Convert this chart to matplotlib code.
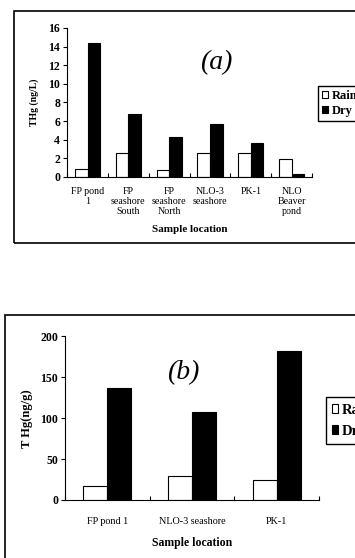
import numpy as np
import matplotlib.pyplot as plt
from matplotlib.patches import Rectangle

plt.rcParams['font.family'] = ['Liberation Serif', 'DejaVu Serif']

# panel (a) - water
sites_a = ["FP pond\n1", "FP\nseashore\nSouth", "FP\nseashore\nNorth",
           "NLO-3\nseashore", "PK-1", "NLO\nBeaver\npond"]
rain_a = [0.8, 2.6, 0.7, 2.6, 2.6, 1.9]
dry_a = [14.4, 6.7, 4.3, 5.7, 3.6, 0.3]

# panel (b) - sediment
sites_b = ["FP pond 1", "NLO-3 seashore", "PK-1"]
rain_b = [17, 29, 25]
dry_b = [137, 108, 182]


def draw_panel(ax, sites, rain, dry, ylim, yticks, ylabel, tag, tagpos,
               bw, tick_fs, xt_fs, lab_fs, yl_fs, xpad):
    x = np.arange(len(sites)) + 0.5
    ax.bar(x - bw / 2, rain, bw, color="white", edgecolor="black", linewidth=0.8, label="Rain")
    ax.bar(x + bw / 2, dry, bw, color="black", edgecolor="black", linewidth=0.8, label="Dry")
    ax.set_xlim(0, len(sites))
    ax.set_ylim(*ylim)
    ax.set_yticks(yticks)
    ax.set_yticklabels([str(t) for t in yticks], fontweight="bold", fontsize=tick_fs)
    ax.set_xticks(np.arange(len(sites) + 1))
    ax.set_xticklabels([])
    ax.set_xticks(x, minor=True)
    ax.set_xticklabels(sites, minor=True, fontsize=xt_fs, linespacing=1.2)
    ax.tick_params(axis="x", which="major", direction="in", length=3, width=0.8)
    ax.tick_params(axis="x", which="minor", length=0, pad=xpad)
    ax.tick_params(axis="y", direction="out", length=3, width=0.8, pad=2)
    for s in ["top", "right"]:
        ax.spines[s].set_visible(False)
    for s in ["left", "bottom"]:
        ax.spines[s].set_linewidth(0.8)
    ax.set_xlabel("Sample location", fontweight="bold", fontsize=lab_fs)
    ax.set_ylabel(ylabel, fontweight="bold", fontsize=yl_fs)
    ax.text(tagpos[0], tagpos[1], tag, transform=ax.transAxes, fontsize=20,
            fontstyle="italic", ha="center", va="center")


fig = plt.figure(figsize=(3.55, 5.58), dpi=100)

ax1 = fig.add_axes([0.189, 0.683, 0.69, 0.267])
draw_panel(ax1, sites_a, rain_a, dry_a, (0, 16), list(range(0, 17, 2)),
           "THg (ng/L)", "(a)", (0.61, 0.77), 0.31, 8.5, 7.2, 8, 7, 7)
ax1.xaxis.labelpad = 6
ax1.yaxis.labelpad = 7
ax1.legend(loc="upper left", bbox_to_anchor=(0.896, 0.846), bbox_transform=fig.transFigure,
           frameon=True, fancybox=False, edgecolor="black", framealpha=1,
           prop={"weight": "bold", "size": 9}, handlelength=0.45, handleheight=0.45,
           handletextpad=0.3, borderpad=0.35, labelspacing=0.2, borderaxespad=0)

ax2 = fig.add_axes([0.183, 0.104, 0.716, 0.293])
draw_panel(ax2, sites_b, rain_b, dry_b, (0, 200), [0, 50, 100, 150, 200],
           "T Hg(ng/g)", "(b)", (0.465, 0.78), 0.285, 8.5, 7.3, 8.5, 9, 12)
ax2.xaxis.labelpad = 8
ax2.yaxis.labelpad = 5
ax2.legend(loc="upper left", bbox_to_anchor=(0.918, 0.2885), bbox_transform=fig.transFigure,
           frameon=True, fancybox=False, edgecolor="black", framealpha=1,
           prop={"weight": "bold", "size": 10.5}, handlelength=0.4, handleheight=0.5,
           handletextpad=0.25, borderpad=0.45, labelspacing=0.55, borderaxespad=0)

# outer boxes around each panel
fig.patches.append(Rectangle((0.039, 0.565), 1.0, 0.415, transform=fig.transFigure,
                             fill=False, edgecolor="black", linewidth=1.2))
fig.patches.append(Rectangle((0.014, -0.05), 1.0, 0.485, transform=fig.transFigure,
                             fill=False, edgecolor="black", linewidth=1.2))

fig.savefig("out.png", dpi=100)
